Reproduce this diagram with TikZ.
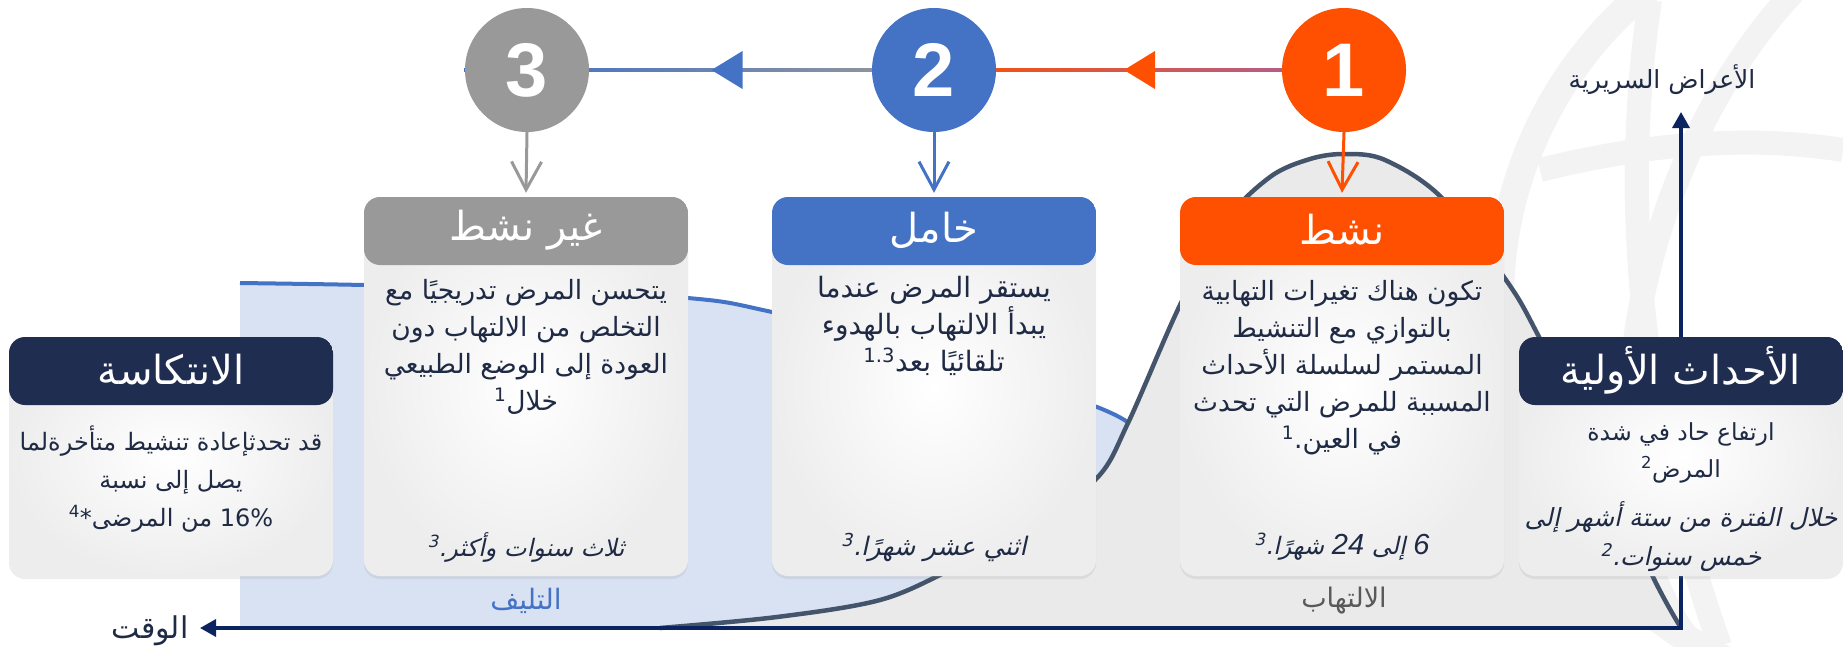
\documentclass[tikz,border=0pt]{standalone}
\usepackage{fontspec}
\setmainfont{Liberation Sans}
\newfontfamily\ar[Script=Arabic]{DejaVu Sans}
\newfontfamily\arit[Script=Arabic,FakeSlant=0.22]{DejaVu Sans}
\newfontfamily\numit{Liberation Sans Italic}
\TeXXeTstate=1
\usetikzlibrary{arrows.meta,shadows,calc}
\definecolor{navy}{HTML}{1F2D50}
\definecolor{axisblue}{HTML}{0B2460}
\definecolor{actorange}{HTML}{FE5000}
\definecolor{latblue}{HTML}{4472C4}
\definecolor{inagray}{HTML}{999999}
\definecolor{txt}{HTML}{1F2A44}
\definecolor{fibfill}{HTML}{D9E2F3}
\definecolor{inflfill}{HTML}{EAEAEA}
\definecolor{curvecol}{HTML}{44546A}
\definecolor{globecol}{HTML}{F3F3F3}
\definecolor{purp}{HTML}{A8609E}
\definecolor{inflab}{HTML}{595959}
\begin{document}
\begin{tikzpicture}[x=1pt,y=-1pt,
  card/.style={rectangle, rounded corners=16pt, minimum width=324pt, inner sep=0pt,
    inner color=white, outer color=black!7,
    drop shadow={opacity=0.14, shadow xshift=0pt, shadow yshift=-3pt},
    path picture={\fill[#1] (path picture bounding box.north west) rectangle ([yshift=-68pt]path picture bounding box.north east);}},
  stepcircle/.style={circle, fill=#1, minimum size=124pt, inner sep=0pt, text=white,
    font=\fontsize{76}{76}\selectfont\bfseries},
  hdr/.style={font=\ar\fontsize{40}{44}\selectfont, text=white, inner sep=0pt},
  body/.style={font=\ar\fontsize{26.5}{37}\selectfont, text=txt, align=center, inner sep=0pt},
  bodyit/.style={font=\arit\fontsize{24}{39}\selectfont, text=txt, align=center, inner sep=0pt},
  downarrow/.style={line width=3pt, draw=#1, -{Straight Barb[length=28pt,width=30pt,line width=3pt]}},
  axis/.style={line width=3.4pt, draw=axisblue},
  globeline/.style={draw=globecol, line width=24pt},
  arrowtip/.style={fill=#1},
  axislab/.style={font=\ar\fontsize{25}{30}\selectfont, text=txt}
]
\useasboundingbox (0,0) rectangle (1843,646);

% globe watermark
\begin{scope}
  \clip (1440,0) rectangle (1843,646);
  \draw[globeline, line width=28pt] (1900,300) circle (400);
  \draw[globeline, rotate around={-18:(1900,300)}] (1900,300) ellipse (250 and 420);
  \draw[globeline] (1540,170) .. controls (1680,135) and (1780,140) .. (1843,150);
  \draw[globeline] (1530,420) .. controls (1650,470) and (1760,500) .. (1843,505);
  \draw[globeline] (1650,0) .. controls (1620,200) and (1640,420) .. (1720,646);
\end{scope}

% fibrosis area
\fill[fibfill] (240,628) -- (240,283) -- plot[smooth, tension=0.6] coordinates {(240,283) (364,285) (520,289) (688,298) (772,312) (950,355) (1097,407) (1132,426)} -- (1132,628) -- cycle;
\draw[latblue, line width=4pt] plot[smooth, tension=0.6] coordinates {(240,283) (364,285) (520,289) (688,298) (772,312) (950,355) (1097,407) (1132,426)};

% inflammation bell
\fill[inflfill] plot[smooth, tension=0.55] coordinates {(660,628) (777,617) (880,600) (950,570) (1030,528) (1097,478) (1128,423) (1180,305) (1225,222) (1270,177) (1310,159) (1345,154) (1385,160) (1441,197) (1506,280) (1538,335) (1600,460) (1653,577) (1681,628)} -- cycle;
\draw[curvecol, line width=4.5pt] plot[smooth, tension=0.55] coordinates {(660,628) (777,617) (880,600) (950,570) (1030,528) (1097,478) (1128,423) (1180,305) (1225,222) (1270,177) (1310,159) (1345,154) (1385,160) (1441,197) (1506,280) (1538,335) (1600,460) (1653,577) (1681,628)};

% area labels
\node[font=\ar\fontsize{28}{32}\selectfont, text=latblue] (fiblab) at (526,601) {\beginR التليف\endR};
\node[font=\ar\fontsize{27}{32}\selectfont, text=inflab] (inflab) at (1344,601) {\beginR الالتهاب\endR};

% axes
\coordinate (O) at (1681,628);
\coordinate (tx) at (200,628);
\coordinate (ty) at (1681,112);
\draw[axis, {Triangle[length=16pt,width=17pt]}-{Triangle[length=16pt,width=17pt]}] (ty) -- (O) -- (tx);
\node[axislab, font=\ar\fontsize{30}{34}\selectfont] (timelab) at (150,631) {\beginR الوقت\endR};
\node[axislab] (symlab) at (1662,80) {\beginR الأعراض السريرية\endR};

% top line with arrows
\coordinate (pl) at (464,70);
\coordinate (p3) at (527,70);
\coordinate (p2) at (934,70);
\coordinate (p1) at (1344,70);
\coordinate (pr) at (1405,70);
\fill[latblue] ($(pl)+(0,-1.7)$) rectangle ($(p3)+(0,1.7)$);
\shade[left color=latblue, right color=inagray] ($(p3)+(0,-1.7)$) rectangle ($(p2)+(0,1.7)$);
\shade[left color=actorange, right color=purp] ($(p2)+(0,-1.7)$) rectangle ($(p1)+(0,1.7)$);
\shade[left color=purp, right color=latblue] ($(p1)+(0,-1.7)$) rectangle ($(pr)+(0,1.7)$);
\fill[arrowtip=latblue] ($(p3)!0.5!(p2)+(-19,0)$) -- ++(31,-19) -- ++(0,38) -- cycle;
\fill[arrowtip=actorange] ($(p2)!0.5!(p1)+(-15,0)$) -- ++(31,-19) -- ++(0,38) -- cycle;

% step circles
\node[stepcircle=inagray] (c3) at (p3) {3};
\node[stepcircle=latblue] (c2) at (p2) {2};
\node[stepcircle=actorange] (c1) at (p1) {1};

% cards
\node[card=navy, minimum height=239pt] (relapse) at (171,456.5) {};
\node[card=inagray, minimum height=379pt] (inactive) at (526,386.5) {};
\node[card=latblue, minimum height=379pt] (latent) at (934,386.5) {};
\node[card=actorange, minimum height=379pt] (active) at (1342,386.5) {};
\node[card=navy, minimum height=239pt] (initial) at (1681,456.5) {};

% down arrows
\draw[downarrow=inagray] (c3.south) -- ([yshift=4pt]inactive.north);
\draw[downarrow=latblue] (c2.south) -- ([yshift=4pt]latent.north);
\draw[downarrow=actorange] (c1.south) -- ([yshift=4pt]active.north);

% headers
\node[hdr] (tRel) at (171,370) {\beginR الانتكاسة\endR};
\node[hdr] (tIna) at (526,230) {\beginR غير نشط\endR};
\node[hdr] (tLat) at (934,230) {\beginR خامل\endR};
\node[hdr] (tAct) at (1342,230) {\beginR نشط\endR};
\node[hdr] (tIni) at (1681,370) {\beginR الأحداث الأولية\endR};

% bodies
\node[body, font=\ar\fontsize{24}{38}\selectfont] (bRel) at (171,479) {\beginR قد تحدثإعادة تنشيط متأخرةلما\endR\\ \beginR يصل إلى نسبة\endR\\ \beginR 16\% من المرضى*\textsuperscript{4}\endR};
\node[body] (bIna) at (526,347) {\beginR يتحسن المرض تدريجيًا مع\endR\\ \beginR التخلص من الالتهاب دون\endR\\ \beginR العودة إلى الوضع الطبيعي\endR\\ \beginR خلال\textsuperscript{1}\endR};
\node[body, font=\ar\fontsize{28}{37}\selectfont] (bLat) at (934,326) {\beginR يستقر المرض عندما\endR\\ \beginR يبدأ الالتهاب بالهدوء\endR\\ \beginR تلقائيًا بعد\textsuperscript{1.3}\endR};
\node[body] (bAct) at (1342,368) {\beginR تكون هناك تغيرات التهابية\endR\\ \beginR بالتوازي مع التنشيط\endR\\ \beginR المستمر لسلسلة الأحداث\endR\\ \beginR المسببة للمرض التي تحدث\endR\\ \beginR في العين.\textsuperscript{1}\endR};
\node[body, font=\ar\fontsize{23.5}{37}\selectfont] (bIni) at (1681,453) {\beginR ارتفاع حاد في شدة\endR\\ \beginR المرض\textsuperscript{2}\endR};
\node[bodyit, font=\arit\fontsize{25}{39}\selectfont] (iIni) at (1681,537) {\beginR خلال الفترة من ستة أشهر إلى\endR\\ \beginR خمس سنوات.\textsuperscript{2}\endR};

% durations
\node[bodyit] (dIna) at (526,547) {\beginR ثلاث سنوات وأكثر.\textsuperscript{3}\endR};
\node[bodyit, font=\arit\fontsize{25.5}{39}\selectfont] (dLat) at (934,547) {\beginR اثني عشر شهرًا.\textsuperscript{3}\endR};
\node[bodyit] (dAct) at (1342,547) {\beginR {\numit\fontsize{29}{29}\selectfont 6} إلى {\numit\fontsize{29}{29}\selectfont 24} شهرًا.\textsuperscript{3}\endR};
\end{tikzpicture}
\end{document}
